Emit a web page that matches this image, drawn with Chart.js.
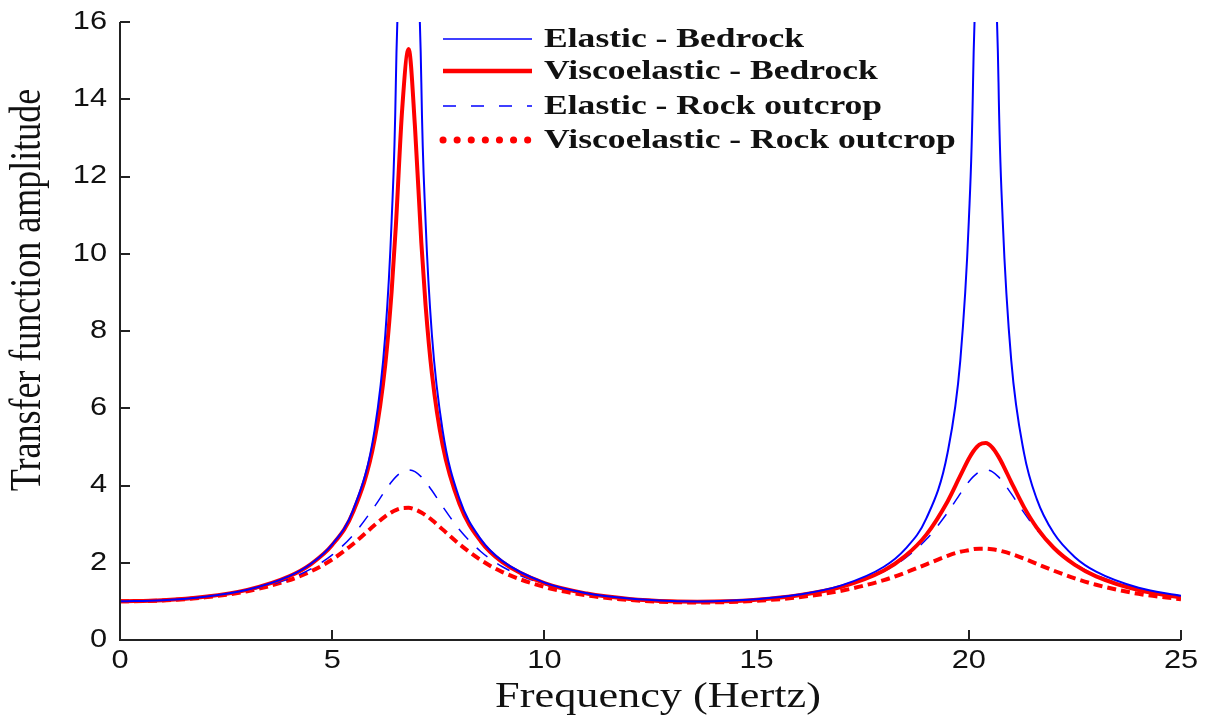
<!DOCTYPE html>
<html>
<head>
<meta charset="utf-8">
<script src="https://cdn.jsdelivr.net/npm/chart.js@4.4.1/dist/chart.umd.min.js"></script>
<style>
  html, body { margin: 0; padding: 0; background: #fff; }
  #wrap { width: 1206px; height: 718px; }
</style>
</head>
<body>
<div id="wrap"><canvas id="tfChart" width="1206" height="718"></canvas></div>
<script>
const freq = [0, 1, 2, 3, 4, 4.5, 5, 5.5, 6, 6.25, 6.4, 6.5, 6.65, 6.8, 6.95, 7.1, 7.2, 7.35, 7.6, 8,
  8.5, 9, 10, 11, 12, 13, 13.6, 14, 15, 16, 17, 18, 18.5, 19, 19.5, 19.8, 20, 20.1, 20.25, 20.4,
  20.55, 20.7, 20.8, 21, 21.3, 21.6, 22, 22.5, 23, 24, 25];

// amplitudes (the elastic bedrock peaks run off the top of the axis)
const elasticBedrock = [1, 1.027, 1.117, 1.300, 1.661, 1.974, 2.475, 3.382, 5.442, 7.887, 10.84, 14.44, 28.86, 100, 28.86, 14.44, 10.84, 7.891, 5.442, 3.654,
  2.613, 2.055, 1.484, 1.212, 1.073, 1.010, 1.0, 1.004, 1.055, 1.176, 1.414, 1.896, 2.354, 3.147, 4.847, 7.24, 10.84, 14.44, 28.86, 100,
  28.86, 14.44, 10.84, 7.238, 4.845, 3.654, 2.768, 2.145, 1.770, 1.353, 1.145];
const viscoBedrock = [1, 1.027, 1.117, 1.299, 1.657, 1.967, 2.458, 3.330, 5.192, 7.128, 9.018, 10.72, 13.76, 15.30, 13.29, 10.29, 8.671, 6.893, 5.057, 3.518,
  2.556, 2.023, 1.470, 1.202, 1.064, 1.002, 0.992, 0.995, 1.043, 1.157, 1.378, 1.801, 2.171, 2.728, 3.588, 4.253, 4.691, 4.874, 5.059, 5.101,
  4.988, 4.748, 4.542, 4.089, 3.440, 2.911, 2.389, 1.946, 1.648, 1.292, 1.104];
const elasticOutcrop = [1, 1.026, 1.110, 1.277, 1.590, 1.842, 2.202, 2.728, 3.460, 3.871, 4.097, 4.224, 4.359, 4.405, 4.359, 4.224, 4.097, 3.871, 3.460, 2.857,
  2.292, 1.903, 1.440, 1.197, 1.068, 1.009, 1.0, 1.004, 1.052, 1.165, 1.379, 1.780, 2.119, 2.606, 3.299, 3.791, 4.097, 4.224, 4.359, 4.405,
  4.359, 4.224, 4.097, 3.790, 3.299, 2.857, 2.389, 1.970, 1.680, 1.325, 1.136];
const viscoOutcrop = [1, 1.024, 1.104, 1.264, 1.554, 1.779, 2.085, 2.492, 2.976, 3.201, 3.310, 3.365, 3.415, 3.421, 3.381, 3.302, 3.232, 3.105, 2.864, 2.477,
  2.071, 1.764, 1.373, 1.155, 1.037, 0.981, 0.971, 0.974, 1.014, 1.108, 1.276, 1.550, 1.742, 1.960, 2.179, 2.285, 2.324, 2.351, 2.365, 2.364,
  2.349, 2.320, 2.294, 2.229, 2.108, 1.973, 1.795, 1.595, 1.430, 1.195, 1.054];

const seriesLabels = ['Elastic - Bedrock', 'Viscoelastic - Bedrock', 'Elastic - Rock outcrop', 'Viscoelastic - Rock outcrop'];
const xTitle = 'Frequency (Hertz)';
const yTitle = 'Transfer function amplitude';

// the source figure is a bit stretched sideways, so text gets the same stretch
const STRETCH = 1.23;
const LEGEND_STRETCH = 1.27;

function toPoints(values) {
  return freq.map((f, i) => ({ x: f, y: values[i] }));
}

function stretchedText(ctx, text, x, y, align, baseline, sx = STRETCH) {
  ctx.save();
  ctx.translate(x, y);
  ctx.scale(sx, 1);
  ctx.textAlign = align;
  ctx.textBaseline = baseline;
  ctx.fillText(text, 0, 0);
  ctx.restore();
}

// axis lines, inward ticks, tick labels, titles and the in-plot legend
const axisDecor = {
  id: 'axisDecor',
  afterDraw(chart) {
    const { ctx, chartArea: a, scales: { x, y } } = chart;
    ctx.save();
    ctx.strokeStyle = '#222';
    ctx.lineWidth = 2;
    ctx.beginPath();
    ctx.moveTo(a.left, a.top);
    ctx.lineTo(a.left, a.bottom);
    ctx.lineTo(a.right, a.bottom);
    y.ticks.forEach(t => {
      const py = Math.round(y.getPixelForValue(t.value));
      ctx.moveTo(a.left, py);
      ctx.lineTo(a.left + 10, py);
    });
    x.ticks.forEach(t => {
      const px = Math.round(x.getPixelForValue(t.value));
      ctx.moveTo(px, a.bottom);
      ctx.lineTo(px, a.bottom - 10);
    });
    ctx.stroke();

    ctx.fillStyle = '#111';
    ctx.font = '25px "Liberation Sans", Arial, sans-serif';
    y.ticks.forEach(t => {
      stretchedText(ctx, String(t.value), a.left - 13, y.getPixelForValue(t.value), 'right', 'middle');
    });
    x.ticks.forEach(t => {
      stretchedText(ctx, String(t.value), x.getPixelForValue(t.value), a.bottom + 28, 'center', 'alphabetic');
    });

    ctx.font = '36px "Liberation Serif", "Times New Roman", serif';
    stretchedText(ctx, xTitle, 658, 707, 'center', 'alphabetic');
    ctx.save();
    ctx.translate(28, 290);
    ctx.scale(STRETCH, 1);
    ctx.rotate(-Math.PI / 2);
    ctx.textAlign = 'center';
    ctx.textBaseline = 'middle';
    ctx.fillText(yTitle, 0, 0);
    ctx.restore();

    // legend
    const rowY = [39, 71, 106, 140];
    const legendDash = [[], [], [13, 15], [0.1, 14]];
    const legendWidth = [1.5, 4.5, 1.5, 7];
    chart.data.datasets.forEach((ds, i) => {
      ctx.save();
      ctx.strokeStyle = ds.borderColor;
      ctx.lineWidth = legendWidth[i];
      ctx.setLineDash(legendDash[i]);
      ctx.lineCap = i === 3 ? 'round' : 'butt';
      ctx.beginPath();
      ctx.moveTo(443, rowY[i]);
      ctx.lineTo(532, rowY[i]);
      ctx.stroke();
      ctx.restore();
      ctx.fillStyle = '#111';
      ctx.font = 'bold 28px "Liberation Serif", "Times New Roman", serif';
      stretchedText(ctx, ds.label, 544, rowY[i] + 1, 'left', 'middle', LEGEND_STRETCH);
    });
    ctx.restore();
  }
};

const ctx = document.getElementById('tfChart').getContext('2d');
new Chart(ctx, {
  type: 'line',
  data: {
    datasets: [
      {
        label: seriesLabels[0],
        data: toPoints(elasticBedrock),
        borderColor: '#0000ff',
        borderWidth: 2
      },
      {
        label: seriesLabels[1],
        data: toPoints(viscoBedrock),
        borderColor: '#ff0000',
        borderWidth: 4
      },
      {
        label: seriesLabels[2],
        data: toPoints(elasticOutcrop),
        borderColor: '#0000ff',
        borderWidth: 1.5,
        borderDash: [14, 12]
      },
      {
        label: seriesLabels[3],
        data: toPoints(viscoOutcrop),
        borderColor: '#ff0000',
        borderWidth: 4,
        borderDash: [9, 5]
      }
    ]
  },
  options: {
    responsive: false,
    animation: false,
    cubicInterpolationMode: 'monotone',
    elements: { point: { radius: 0 } },
    layout: { padding: { top: 22, right: 25, left: 0, bottom: 0 } },
    plugins: {
      legend: { display: false },
      tooltip: { enabled: false }
    },
    scales: {
      x: {
        type: 'linear',
        min: 0,
        max: 25,
        ticks: { stepSize: 5, display: false },
        grid: { display: false },
        border: { display: false },
        afterFit: scale => { scale.height = 78; }
      },
      y: {
        min: 0,
        max: 16,
        ticks: { stepSize: 2, display: false },
        grid: { display: false },
        border: { display: false },
        afterFit: scale => { scale.width = 120; }
      }
    }
  },
  plugins: [axisDecor]
});
</script>
</body>
</html>
